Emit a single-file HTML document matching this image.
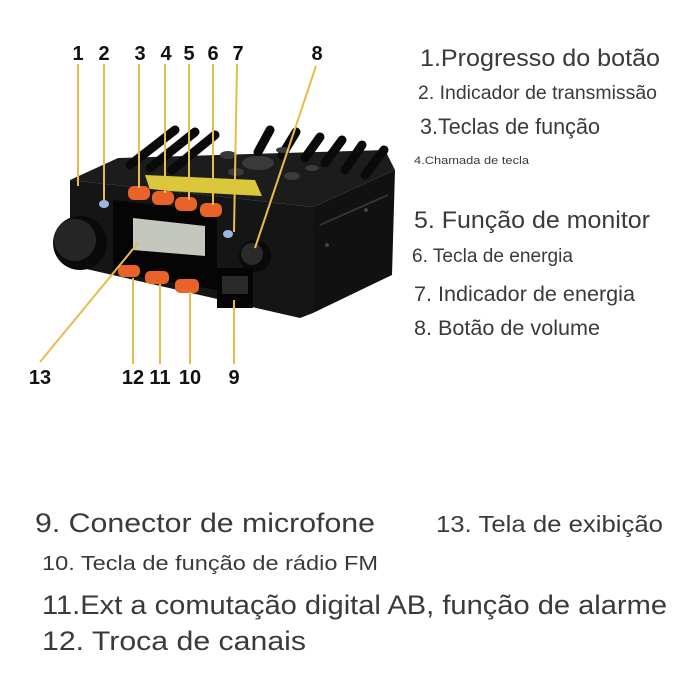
<!DOCTYPE html>
<html><head><meta charset="utf-8"><style>
html,body{margin:0;padding:0;background:#fff;width:700px;height:700px;overflow:hidden}
svg{display:block}
text{font-family:"Liberation Sans",sans-serif;fill:#3a3a3a}
.n{font-weight:bold;fill:#111;font-size:20px}
</style></head><body>
<svg width="700" height="700" viewBox="0 0 700 700">
<!-- top surface -->
<polygon points="70,180 118,158 385,150 395,170 313,207" fill="#1c1c1c"/>
<!-- fins -->
<g stroke="#0a0a0a" stroke-width="9" stroke-linecap="round">
<line x1="130" y1="165" x2="175" y2="130"/>
<line x1="150" y1="168" x2="195" y2="132"/>
<line x1="172" y1="170" x2="215" y2="135"/>
<line x1="258" y1="152" x2="270" y2="130"/>
<line x1="282" y1="155" x2="296" y2="132"/>
<line x1="305" y1="158" x2="320" y2="137"/>
<line x1="325" y1="163" x2="342" y2="140"/>
<line x1="345" y1="170" x2="362" y2="145"/>
<line x1="365" y1="175" x2="384" y2="150"/>
</g>
<g fill="#3a3a3a">
<ellipse cx="258" cy="163" rx="16" ry="7"/>
<ellipse cx="228" cy="155" rx="8" ry="4"/>
<ellipse cx="236" cy="172" rx="8" ry="4"/>
<ellipse cx="292" cy="176" rx="8" ry="4"/>
<ellipse cx="283" cy="150" rx="7" ry="3"/>
<ellipse cx="312" cy="168" rx="7" ry="3"/>
</g>
<!-- yellow label -->
<polygon points="145,175 255,180 262,196 150,190" fill="#d9c83a"/>
<!-- right side -->
<polygon points="313,207 395,170 392,275 313,313" fill="#111"/>
<line x1="320" y1="225" x2="388" y2="195" stroke="#333" stroke-width="2"/>
<circle cx="327" cy="245" r="2" fill="#444"/><circle cx="366" cy="210" r="2" fill="#444"/>
<!-- front face -->
<polygon points="70,180 313,207 313,313 300,318 82,268 70,250" fill="#151515"/>
<!-- display bezel -->
<polygon points="113,200 217,212 217,290 113,272" fill="#050505"/>
<polygon points="133,218 205,226 205,256 133,250" fill="#c4c7bd"/>
<!-- orange buttons -->
<g fill="#e8622a">
<rect x="128" y="186" width="22" height="14" rx="6"/>
<rect x="152" y="191" width="22" height="14" rx="6"/>
<rect x="175" y="197" width="22" height="14" rx="6"/>
<rect x="200" y="203" width="22" height="14" rx="6"/>
<rect x="118" y="265" width="22" height="12" rx="5"/>
<rect x="145" y="271" width="24" height="13" rx="5"/>
<rect x="175" y="279" width="24" height="14" rx="5"/>
</g>
<ellipse cx="104" cy="204" rx="5" ry="4" fill="#9ab7e0"/>
<ellipse cx="228" cy="234" rx="5" ry="4" fill="#9ab7e0"/>
<!-- knobs -->
<circle cx="80" cy="243" r="27" fill="#0a0a0a"/>
<circle cx="75" cy="240" r="21" fill="#262626"/>
<circle cx="255" cy="256" r="16" fill="#0a0a0a"/>
<circle cx="252" cy="254" r="11" fill="#2a2a2a"/>
<!-- mic jack -->
<rect x="217" y="268" width="36" height="40" fill="#050505"/>
<rect x="222" y="276" width="26" height="18" fill="#2a2a2a"/>
<!-- leader lines -->
<g stroke="#e6bd4a" stroke-width="2" fill="none">
<line x1="78" y1="64" x2="78" y2="186"/>
<line x1="104" y1="64" x2="104" y2="200"/>
<line x1="139" y1="64" x2="139" y2="188"/>
<line x1="165" y1="64" x2="165" y2="193"/>
<line x1="189" y1="64" x2="189" y2="200"/>
<line x1="213" y1="64" x2="213" y2="205"/>
<line x1="237" y1="64" x2="234" y2="232"/>
<line x1="316" y1="66" x2="255" y2="248"/>
<line x1="40" y1="362" x2="138" y2="243"/>
<line x1="133" y1="278" x2="133" y2="364"/>
<line x1="160" y1="284" x2="160" y2="364"/>
<line x1="190" y1="292" x2="190" y2="364"/>
<line x1="234" y1="300" x2="234" y2="364"/>
</g>
<text class="n" x="78" y="60" text-anchor="middle">1</text>
<text class="n" x="104" y="60" text-anchor="middle">2</text>
<text class="n" x="140" y="60" text-anchor="middle">3</text>
<text class="n" x="166" y="60" text-anchor="middle">4</text>
<text class="n" x="189" y="60" text-anchor="middle">5</text>
<text class="n" x="213" y="60" text-anchor="middle">6</text>
<text class="n" x="238" y="60" text-anchor="middle">7</text>
<text class="n" x="317" y="60" text-anchor="middle">8</text>
<text class="n" x="40" y="384" text-anchor="middle">13</text>
<text class="n" x="133" y="384" text-anchor="middle">12</text>
<text class="n" x="160" y="384" text-anchor="middle">11</text>
<text class="n" x="190" y="384" text-anchor="middle">10</text>
<text class="n" x="234" y="384" text-anchor="middle">9</text>
<!-- right list -->
<text x="420" y="66" font-size="24" textLength="240" lengthAdjust="spacingAndGlyphs">1.Progresso do botão</text>
<text x="418" y="99" font-size="19" textLength="239" lengthAdjust="spacingAndGlyphs">2. Indicador de transmissão</text>
<text x="420" y="134" font-size="22" textLength="180" lengthAdjust="spacingAndGlyphs">3.Teclas de função</text>
<text x="414" y="164" font-size="11" textLength="115" lengthAdjust="spacingAndGlyphs">4.Chamada de tecla</text>
<text x="414" y="228" font-size="24" textLength="236" lengthAdjust="spacingAndGlyphs">5. Função de monitor</text>
<text x="412" y="262" font-size="19" textLength="161" lengthAdjust="spacingAndGlyphs">6. Tecla de energia</text>
<text x="414" y="301" font-size="21" textLength="221" lengthAdjust="spacingAndGlyphs">7. Indicador de energia</text>
<text x="414" y="335" font-size="21" textLength="186" lengthAdjust="spacingAndGlyphs">8. Botão de volume</text>
<!-- bottom -->
<text x="35" y="532" font-size="27" textLength="340" lengthAdjust="spacingAndGlyphs">9. Conector de microfone</text>
<text x="436" y="532" font-size="23" textLength="227" lengthAdjust="spacingAndGlyphs">13. Tela de exibição</text>
<text x="42" y="570" font-size="20" textLength="336" lengthAdjust="spacingAndGlyphs">10. Tecla de função de rádio FM</text>
<text x="42" y="614" font-size="27" textLength="625" lengthAdjust="spacingAndGlyphs">11.Ext a comutação digital AB, função de alarme</text>
<text x="42" y="650" font-size="27" textLength="264" lengthAdjust="spacingAndGlyphs">12. Troca de canais</text>
</svg>
</body></html>
